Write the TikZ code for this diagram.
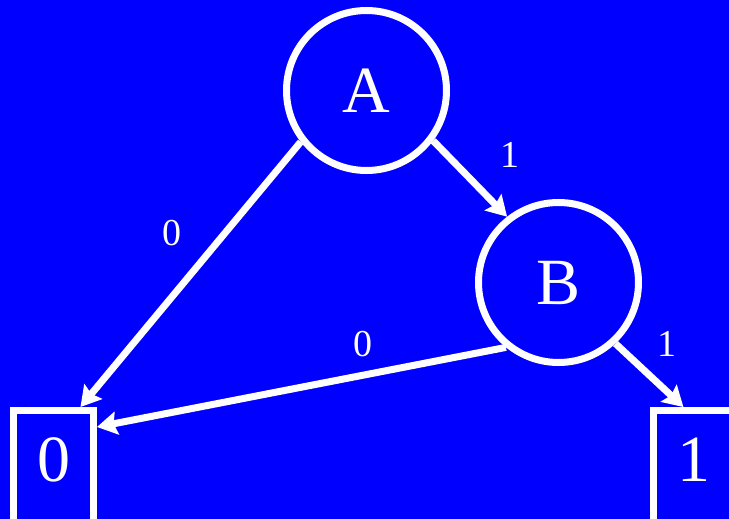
\documentclass[tikz,border=0pt]{standalone}
\usepackage{fontspec}
\setmainfont{Liberation Serif}
\usetikzlibrary{positioning,arrows.meta}

\begin{document}
\begin{tikzpicture}[x=1pt,y=-1pt,
  var/.style={circle,draw=white,line width=7pt,minimum size=160pt,text=white,font=\fontsize{66}{66}\selectfont},
  leaf/.style={rectangle,draw=white,line width=7pt,minimum width=80pt,minimum height=120pt,text depth=21pt,text=white,font=\fontsize{66}{66}\selectfont},
  link/.style={-{Stealth[length=20pt,width=23pt,inset=3pt]},line width=7pt,white},
  lbl/.style={font=\fontsize{38}{38}\selectfont,inner sep=0pt,text=white}]
\fill[blue] (0,0) rectangle (729,519);
\useasboundingbox (0,0) rectangle (729,519);
\clip (0,0) rectangle (729,519);

\node[var] (A) at (366.5,90.5) {A};
\node[var] (B) at (558.5,282.5) {B};
\node[leaf] (zero) at (53.5,470.5) {0};
\node[leaf] (one) at (693.5,470.5) {1};

\draw[link] (A.323) -- (B.128) node[lbl,midway,above right=8pt and 27pt] (lAB) {1};
\draw[link] (A.218) -- (zero.67) node[lbl,midway,above left=25pt and 5.5pt] (lA0) {0};
\draw[link] (B.231) -- (zero.45) node[lbl,pos=0.35,above=14.4pt] (lB0) {0};
\draw[link] (B.313) -- (one.99) node[lbl,midway,above right=15.6pt and 5pt] (lB1) {1};
\end{tikzpicture}
\end{document}
